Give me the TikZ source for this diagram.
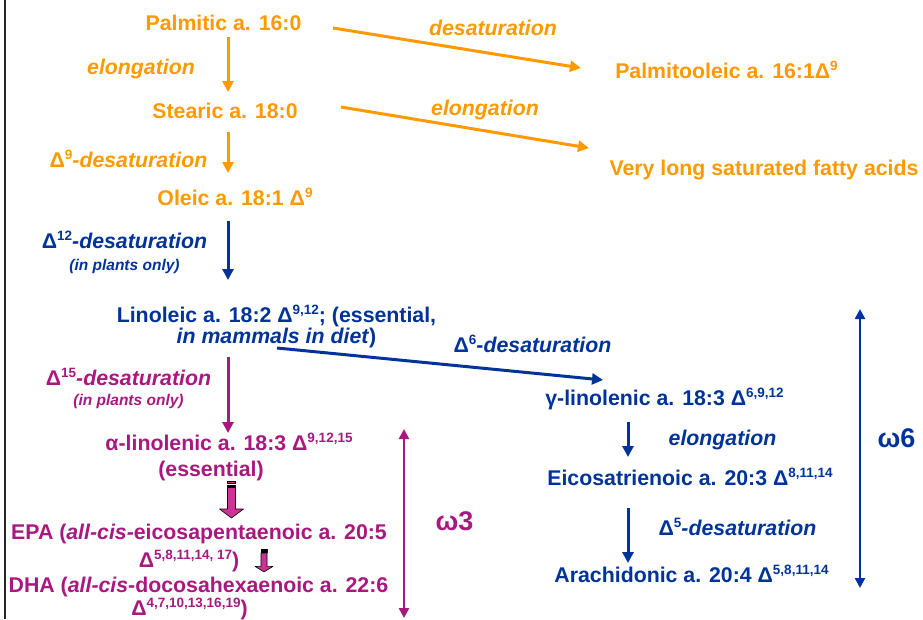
\documentclass[tikz,border=0pt]{standalone}
\usepackage{fontspec}
\setmainfont{Liberation Sans}
\usetikzlibrary{arrows.meta, calc}

\definecolor{acidorange}{HTML}{FF9900}
\definecolor{acidblue}{HTML}{003399}
\definecolor{acidpurple}{HTML}{A8187F}
\definecolor{blockpink}{HTML}{CC3399}

% fonts of the labels
\newcommand{\acidfont}{\bfseries\fontsize{21.3}{22}\selectfont\lineskiplimit=-30pt\relax}
\newcommand{\notesize}{\fontsize{15.5}{16}\selectfont}
% double bond positions, raised small digits after a Delta
\newcommand{\dbond}[1]{Δ\raisebox{8pt}{\fontsize{13.5}{14}\selectfont #1}}

\tikzstyle{acid} = [inner sep=0pt, anchor=base, align=center, font=\acidfont]
\tikzstyle{omega} = [inner sep=0pt, anchor=base, font=\bfseries\fontsize{27}{30}\selectfont]
\tikzstyle{arrow} = [line width=3pt, -{Triangle[length=11pt, width=11pt]}]
\tikzstyle{span} = [line width=2.6pt,
                    {Triangle[length=10pt, width=10pt]}-{Triangle[length=10pt, width=10pt]}]

\begin{document}
\begin{tikzpicture}[x=1pt, y=-1pt, line join=round]
    \useasboundingbox (0,0) rectangle (923,619);
    % frame edge
    \draw[line width=2pt, black!85] (5,0) -- (5,619);

    % columns of the vertical arrows
    \coordinate (chain) at (228,0);
    \coordinate (sixchain) at (628,0);

    % Saturated / monounsaturated part
    \node[acid, acidorange] (palm)  at (223.5,30) {Palmitic a. 16:0};
    \node[acid, acidorange] (stear) at (225,118)  {Stearic a. 18:0};
    \node[acid, acidorange] (oleic) at (235,205)  {Oleic a. 18:1 \dbond{9}};
    \node[acid, acidorange] (palmo) at (726.5,78) {Palmitooleic a. 16:1\dbond{9}};
    \node[acid, acidorange] (vlong) at (764,175)  {Very long saturated fatty acids};

    \node[acid, acidorange] (el1)   at (141,74)   {\textit{elongation}};
    \node[acid, acidorange] (d9)    at (128.5,167) {\dbond{9}\textit{-desaturation}};
    \node[acid, acidorange] (desat) at (493,35)   {\textit{desaturation}};
    \node[acid, acidorange] (el2)   at (485,115)  {\textit{elongation}};

    \draw[arrow, acidorange] ($(palm.base -| chain)+(0,7)$) -- ($(stear.base -| chain)+(0,-26)$);
    \draw[arrow, acidorange] ($(stear.base -| chain)+(0,14)$) -- ($(oleic.base -| chain)+(0,-32)$);
    \draw[arrow, acidorange] ($(palm.base)+(109.5,-2)$) -- ($(palmo.base)+(-145.5,-10)$);
    \draw[arrow, acidorange] ($(stear.base)+(116,-11)$) -- ($(vlong.base)+(-175,-27)$);

    % omega-6 family (base of a two-line node = its last line)
    \node[acid, acidblue] (lino)  at (276.5,343)
      {Linoleic a. 18:2 \dbond{9,12}; (essential,\\[-1pt] \textit{in mammals in diet})};
    \node[acid, acidblue] (gamma) at (664.5,405) {γ-linolenic a. 18:3 \dbond{6,9,12}};
    \node[acid, acidblue] (eico)  at (690,485)   {Eicosatrienoic a. 20:3 \dbond{8,11,14}};
    \node[acid, acidblue] (arach) at (691.5,582) {Arachidonic a. 20:4 \dbond{5,8,11,14}};

    \node[acid, acidblue] (d12) at (124.5,270)
      {\dbond{12}\textit{-desaturation}\\ {\notesize\textit{(in plants only)}}};
    \node[acid, acidblue] (d6)  at (532.5,352) {\dbond{6}-\textit{desaturation}};
    \node[acid, acidblue] (el3) at (722.5,445) {\textit{elongation}};
    \node[acid, acidblue] (d5)  at (737.5,535) {\dbond{5}\textit{-desaturation}};

    \draw[arrow, acidblue] ($(oleic.base -| chain)+(0,16)$) -- ($(lino.base -| chain)+(0,-63)$);
    \draw[arrow, acidblue] ($(lino.base)+(0.5,5)$) -- ($(gamma.base)+(-61.5,-25)$);
    \draw[arrow, acidblue] ($(gamma.base -| sixchain)+(0,17)$) -- ($(eico.base -| sixchain)+(0,-28)$);
    \draw[arrow, acidblue] ($(eico.base -| sixchain)+(0,23)$) -- ($(arach.base -| sixchain)+(0,-19)$);

    \coordinate (w6top) at (860,309);
    \coordinate (w6bot) at (860,588);
    \draw[span, acidblue] (w6top) -- (w6bot);
    \node[omega, acidblue] (om6) at (896.5,447) {ω6};

    % omega-3 family
    \node[acid, acidpurple] (d15) at (128.5,405)
      {\dbond{15}\textit{-desaturation}\\[-2pt] {\notesize\textit{(in plants only)}}};
    \node[acid, acidpurple] (alin) at (229,476)
      {α-linolenic a. 18:3 \dbond{9,12,15}\\[4pt] (essential)\hspace*{36pt}};
    \node[acid, acidpurple] (epa) at (199,567)
      {EPA (\textit{all-cis-}eicosapentaenoic a. 20:5\\[6pt] \dbond{5,8,11,14, 17})\hspace*{20pt}};
    \node[acid, acidpurple] (dha) at (198.5,615)
      {DHA (\textit{all-cis}-docosahexaenoic a. 22:6\\[1pt] \dbond{4,7,10,13,16,19})\hspace*{18pt}};

    \draw[arrow, acidpurple] ($(lino.base -| chain)+(0,14)$) -- ($(alin.base -| chain)+(0,-43)$);

    \coordinate (w3top) at (404,429);
    \coordinate (w3bot) at (404,618);
    \draw[span, acidpurple] (w3top) -- (w3bot);
    \node[omega, acidpurple] (om3) at (454.5,530) {ω3};

    % striped block arrows
    \foreach \bx/\by/\sx/\sy in {231.5/481/1/1, 264/549/0.75/0.62} {
      \begin{scope}[shift={(\bx,\by)}, xscale=\sx, yscale=\sy]
        \filldraw[fill=blockpink, draw=black, line width=0.7pt] (-4,0) rectangle (4,2.5);
        \filldraw[fill=blockpink, draw=black, line width=0.5pt] (-4,4) rectangle (4,5.2);
        \filldraw[fill=blockpink, draw=black, line width=0.6pt]
          (-4,6.5) -- (-4,28) -- (-12,28) -- (0,37) -- (12,28) -- (4,28) -- (4,6.5) -- cycle;
      \end{scope}
    }
\end{tikzpicture}
\end{document}
